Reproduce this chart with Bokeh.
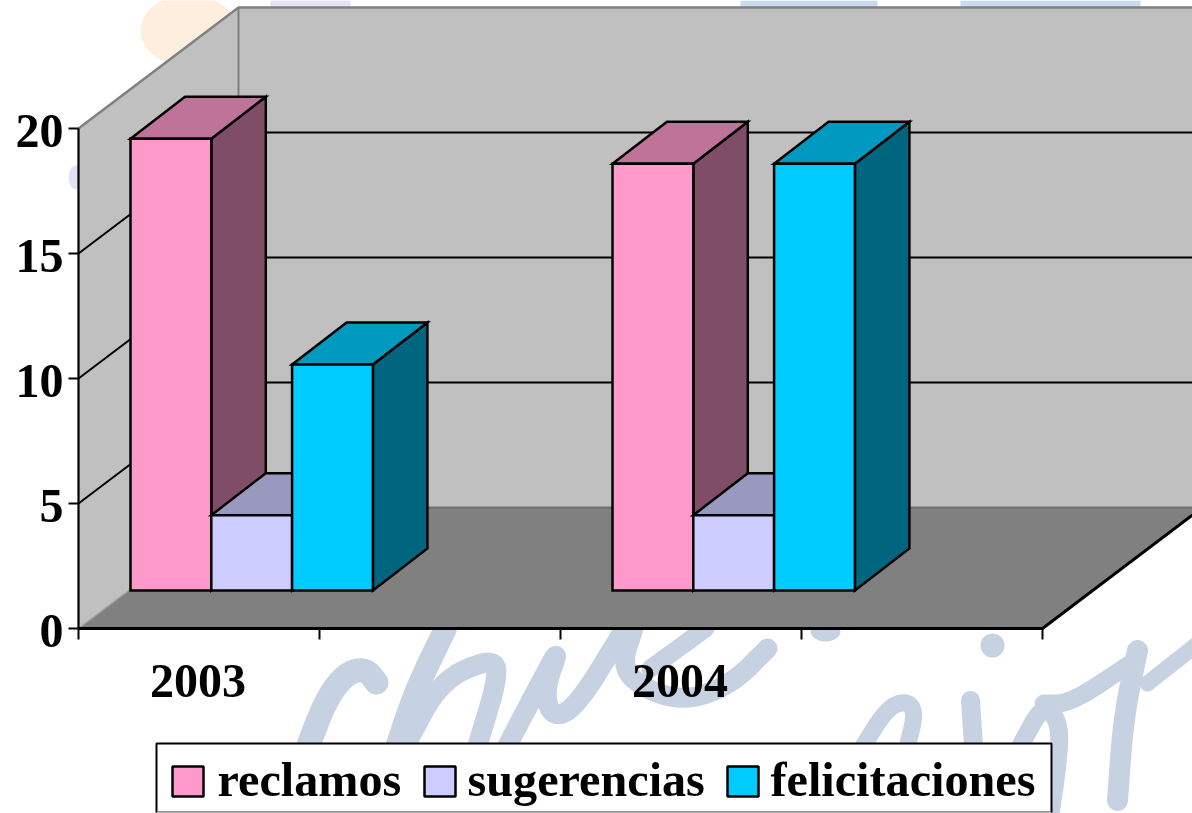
from bokeh.core.properties import value
from bokeh.embed import file_html
from bokeh.models import Range1d
from bokeh.plotting import figure
from bokeh.resources import INLINE

# --- chart data ---
categories = ["2003", "", "2004", ""]
series_names = ["reclamos", "sugerencias", "felicitaciones"]
reclamos = [18, None, 17, None]
sugerencias = [3, None, 3, None]
felicitaciones = [9, None, 17, None]
y_ticks = [0, 5, 10, 15, 20]

front_colors = ["#FF99CC", "#CCCCFF", "#00CCFF"]
top_colors = ["#BF7399", "#9999BF", "#0099BF"]
side_colors = ["#804D66", "#666680", "#006680"]

W, H = 1192, 813
FONT = value("Liberation Serif")
TEXT_SHIFT = -18                # baseline correction for svg text
AX_X0, AX_Y0 = 78, 628          # front-left corner of floor
UNIT = 25.0                     # pixels per value unit on the walls
BAR_UNIT = 25.1
CAT_W = 241.0
DEPTH_X, DEPTH_Y = 160, -121    # depth vector of the box
BAR_OX, BAR_OY = 52, -38        # front of the bars inside the box
BAR_DX, BAR_DY = 54.5, -42      # depth of one bar
BAR_W = 80.8

p = figure(width=W, height=H, x_range=Range1d(0, W), y_range=Range1d(H, 0),
           output_backend="svg", toolbar_location=None, min_border=0,
           outline_line_color=None, background_fill_color="white",
           border_fill_color="white",
           styles={"position": "fixed", "left": "0px", "top": "0px"})
p.axis.visible = False
p.grid.visible = False


def smooth(pts, n=3):
    for _ in range(n):
        out = [pts[0]]
        for a, b in zip(pts, pts[1:]):
            out.append((0.75 * a[0] + 0.25 * b[0], 0.75 * a[1] + 0.25 * b[1]))
            out.append((0.25 * a[0] + 0.75 * b[0], 0.25 * a[1] + 0.75 * b[1]))
        out.append(pts[-1])
        pts = out
    return pts


# --- faint watermark behind the chart ---
INK = "#C6D1E2"
strokes = [
    (24, [(306, 750), (325, 700), (345, 673), (365, 668), (376, 682)]),
    (23, [(395, 750), (415, 690), (445, 628)]),
    (20, [(405, 745), (440, 680), (490, 658), (499, 672), (477, 745)]),
    (20, [(507, 745), (540, 682), (560, 645), (543, 692), (553, 718), (577, 705), (620, 635)]),
    (20, [(633, 628), (620, 668), (650, 692), (690, 700), (733, 682), (767, 648)]),
    (18, [(705, 628), (650, 668)]),
    (17, [(863, 745), (887, 707), (907, 700), (915, 713), (907, 745)]),
    (19, [(970, 700), (973, 745)]),
    (18, [(1020, 745), (1043, 703), (1060, 723), (1057, 767), (1050, 813)]),
    (18, [(1043, 703), (1070, 703), (1130, 663)]),
    (21, [(1137, 650), (1123, 717), (1117, 800)]),
    (16, [(1147, 683), (1195, 645)]),
]
for width, pts in strokes:
    sm = smooth(pts)
    p.line([q[0] for q in sm], [q[1] for q in sm], line_color=INK, line_width=width,
           line_cap="round", line_join="round")
p.ellipse([992, 825], [645, 631], width=[24, 30], height=[24, 20], fill_color=INK, line_color=None)
p.ellipse([188], [30], width=[96], height=[72], fill_color="#FEEEDD", line_color=None)
p.ellipse([76], [177], width=[16], height=[24], fill_color="#E2E2F5", line_color=None)
p.quad(left=[270, 740, 960], right=[350, 877, 1140], top=[0, 0, 0], bottom=[8, 8, 8],
       fill_color=["#E2E2F7", "#C8DCF1", "#C8DCF1"], line_color=None)


# --- box ---
top_v = y_ticks[-1]
floor_w = CAT_W * len(categories)
bx0, by0 = AX_X0 + DEPTH_X, AX_Y0 + DEPTH_Y
far = W + 20
top_y = by0 - UNIT * top_v
p.patch([bx0, far, far, bx0], [top_y, top_y, by0, by0], fill_color="#C0C0C0", line_color=None)
p.patch([AX_X0, bx0, bx0, AX_X0], [AX_Y0 - UNIT * top_v, top_y, by0, AX_Y0],
        fill_color="#C0C0C0", line_color=None)
right_x = AX_X0 + floor_w
p.patch([AX_X0, right_x, right_x + DEPTH_X, bx0], [AX_Y0, AX_Y0, by0, by0],
        fill_color="#808080", line_color=None)

GRAY = "#808080"
p.line([AX_X0, bx0, far], [AX_Y0 - UNIT * top_v, top_y, top_y], line_color=GRAY, line_width=2.5)
p.line([bx0, bx0], [top_y, by0], line_color=GRAY, line_width=2)
p.line([bx0, far], [by0, by0], line_color="#6E6E6E", line_width=2)
p.line([AX_X0, bx0], [AX_Y0, by0], line_color="#A0A0A0", line_width=1.5)

for v in y_ticks[1:-1]:
    p.line([AX_X0, bx0, far], [AX_Y0 - UNIT * v, by0 - UNIT * v, by0 - UNIT * v],
           line_color="black", line_width=2)

# axes
p.line([AX_X0, AX_X0], [AX_Y0, AX_Y0 - UNIT * top_v], line_color="black", line_width=2.2)
p.line([AX_X0, right_x, right_x + DEPTH_X], [AX_Y0, AX_Y0, by0], line_color="black", line_width=3)
for v in y_ticks:
    y = AX_Y0 - UNIT * v
    p.line([AX_X0 - 10, AX_X0], [y, y], line_color="black", line_width=2)
p.text([AX_X0 - 15] * len(y_ticks), [AX_Y0 - UNIT * v + 20 + TEXT_SHIFT for v in y_ticks],
       text=[str(v) for v in y_ticks], text_font=FONT, text_font_style="bold",
       text_font_size="48px", text_align="right", text_baseline="alphabetic", text_color="black")
for i in range(len(categories) + 1):
    x = AX_X0 + CAT_W * i
    p.line([x, x], [AX_Y0, AX_Y0 + 11], line_color="black", line_width=2)
p.text([AX_X0 + CAT_W * (i + 0.5) - 1 for i, c in enumerate(categories) if c],
       [698 + TEXT_SHIFT] * sum(1 for c in categories if c),
       text=[c for c in categories if c], text_font=FONT, text_font_style="bold",
       text_font_size="48px", text_align="center", text_baseline="alphabetic", text_color="black")

# --- bars ---
all_series = [reclamos, sugerencias, felicitaciones]
for c in range(len(categories)):
    for s, vals in enumerate(all_series):
        v = vals[c]
        if v is None:
            continue
        x0 = AX_X0 + BAR_OX + CAT_W * c + BAR_W * s
        x1 = x0 + BAR_W
        yb = AX_Y0 + BAR_OY
        yt = yb - BAR_UNIT * v
        kw = dict(line_color="black", line_width=2.5, line_join="miter")
        p.patch([x1, x1 + BAR_DX, x1 + BAR_DX, x1], [yb, yb + BAR_DY, yt + BAR_DY, yt],
                fill_color=side_colors[s], **kw)
        p.patch([x0, x1, x1 + BAR_DX, x0 + BAR_DX], [yt, yt, yt + BAR_DY, yt + BAR_DY],
                fill_color=top_colors[s], **kw)
        p.patch([x0, x1, x1, x0], [yb, yb, yt, yt], fill_color=front_colors[s], **kw)

# --- legend ---
p.quad(left=[156], right=[1051], top=[743], bottom=[812], fill_color="white",
       line_color="black", line_width=2)
p.line([156, 1051], [812, 812], line_color="#B0B0B0", line_width=2)
swatch_x = [172, 424, 727]
label_x = [217, 467, 770]
p.quad(left=swatch_x, right=[x + 31 for x in swatch_x], top=[766] * 3, bottom=[796] * 3,
       fill_color=front_colors, line_color="black", line_width=2.5)
p.text(label_x, [797 + TEXT_SHIFT] * 3, text=series_names, text_font=FONT, text_font_style="bold",
       text_font_size="48.2px", text_align="left", text_baseline="alphabetic", text_color="black")

open("out.html", "w").write(file_html(p, INLINE))
